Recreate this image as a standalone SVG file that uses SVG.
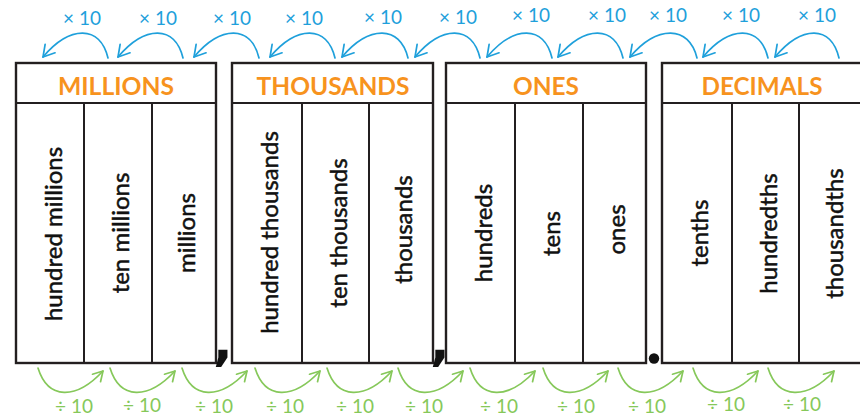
<svg xmlns="http://www.w3.org/2000/svg" width="860" height="418" viewBox="0 0 860 418">
<style>
.box{fill:#fff;stroke:#231F20;stroke-width:2.4}
.div{stroke:#231F20;stroke-width:2}
.hdr{font-family:Lato,"Open Sans",sans-serif;font-weight:bold;font-size:24px;fill:#F7931E;text-anchor:middle}
.col{font-family:Lato,"Open Sans",sans-serif;font-size:24px;fill:#111;stroke:#111;stroke-width:0.5;text-anchor:middle}
.up{fill:none;stroke:#1FA0DB;stroke-width:1.7;stroke-linecap:round}
.dn{fill:none;stroke:#86C85A;stroke-width:1.7;stroke-linecap:round}
.ul{font-family:Lato,"Open Sans",sans-serif;font-size:19px;fill:#1FA0DB;text-anchor:middle}
.dl{font-family:Lato,"Open Sans",sans-serif;font-size:19px;fill:#86C85A;text-anchor:middle}
.sep{font-family:"DejaVu Sans",sans-serif;font-weight:bold;font-size:52px;fill:#111;text-anchor:middle}
</style>
<defs>
<marker id="ahb" markerUnits="userSpaceOnUse" markerWidth="24" markerHeight="24" viewBox="-16 -12 24 24" refX="0" refY="0" orient="auto">
<path d="M-11,-6.5 L0,0 L-11,6.5" fill="none" stroke="#1FA0DB" stroke-width="1.7" stroke-linecap="round" stroke-linejoin="round"/>
</marker>
<marker id="ahg" markerUnits="userSpaceOnUse" markerWidth="24" markerHeight="24" viewBox="-16 -12 24 24" refX="0" refY="0" orient="auto">
<path d="M-9.5,-5.5 L0,0 L-9.5,5.5" fill="none" stroke="#86C85A" stroke-width="1.7" stroke-linecap="round" stroke-linejoin="round"/>
</marker>
</defs>
<rect width="860" height="418" fill="#fff"/>

<g id="millions">
<rect class="box" x="16" y="63" width="200" height="300"/>
<line class="div" x1="16" y1="103" x2="216" y2="103"/>
<line class="div" x1="84" y1="103" x2="84" y2="363"/>
<line class="div" x1="152" y1="103" x2="152" y2="363"/>
<text class="hdr" x="116" y="95" textLength="116" lengthAdjust="spacingAndGlyphs">MILLIONS</text>
<text class="col" transform="translate(62,234) rotate(-90)">hundred millions</text>
<text class="col" transform="translate(129,233) rotate(-90)">ten millions</text>
<text class="col" transform="translate(195,233) rotate(-90)">millions</text>
</g>

<g id="thousands">
<rect class="box" x="232" y="63" width="201" height="300"/>
<line class="div" x1="232" y1="103" x2="433" y2="103"/>
<line class="div" x1="302" y1="103" x2="302" y2="363"/>
<line class="div" x1="369" y1="103" x2="369" y2="363"/>
<text class="hdr" x="333" y="95" textLength="153" lengthAdjust="spacingAndGlyphs">THOUSANDS</text>
<text class="col" transform="translate(278,232.5) rotate(-90)">hundred thousands</text>
<text class="col" transform="translate(347,233) rotate(-90)">ten thousands</text>
<text class="col" transform="translate(412,229.5) rotate(-90)">thousands</text>
</g>

<g id="ones">
<rect class="box" x="446" y="63" width="200" height="300"/>
<line class="div" x1="446" y1="103" x2="646" y2="103"/>
<line class="div" x1="515" y1="103" x2="515" y2="363"/>
<line class="div" x1="583" y1="103" x2="583" y2="363"/>
<text class="hdr" x="546" y="95" textLength="66" lengthAdjust="spacingAndGlyphs">ONES</text>
<text class="col" transform="translate(492,233) rotate(-90)">hundreds</text>
<text class="col" transform="translate(560,233.5) rotate(-90)">tens</text>
<text class="col" transform="translate(625,229.5) rotate(-90)">ones</text>
</g>

<g id="decimals">
<rect class="box" x="662" y="63" width="210" height="300"/>
<line class="div" x1="662" y1="103" x2="872" y2="103"/>
<line class="div" x1="732" y1="103" x2="732" y2="363"/>
<line class="div" x1="799" y1="103" x2="799" y2="363"/>
<text class="hdr" x="762" y="95" textLength="121" lengthAdjust="spacingAndGlyphs">DECIMALS</text>
<text class="col" transform="translate(708,233) rotate(-90)">tenths</text>
<text class="col" transform="translate(777,233.5) rotate(-90)">hundredths</text>
<text class="col" transform="translate(843,233.5) rotate(-90)">thousandths</text>
</g>

<g id="separators">
<text class="sep" x="223" y="360">,</text>
<text class="sep" x="440" y="360">,</text>
<circle cx="654" cy="358.5" r="5.2" fill="#111"/>
</g>

<g id="connectors">
<path class="up" marker-end="url(#ahb)" d="M108,58 C100,25 70,25 43,57"/>
<path class="up" marker-end="url(#ahb)" d="M183,58 C175,25 145,25 118,57"/>
<path class="up" marker-end="url(#ahb)" d="M259,58 C251,25 221,25 194,57"/>
<path class="up" marker-end="url(#ahb)" d="M335,58 C327,25 297,25 270,57"/>
<path class="up" marker-end="url(#ahb)" d="M408,58 C400,25 369,25 342,57"/>
<path class="up" marker-end="url(#ahb)" d="M480,58 C472,25 442,25 415,57"/>
<path class="up" marker-end="url(#ahb)" d="M552,58 C544,25 514,25 487,57"/>
<path class="up" marker-end="url(#ahb)" d="M623,58 C615,25 585,25 558,57"/>
<path class="up" marker-end="url(#ahb)" d="M697,58 C689,25 657,25 630,57"/>
<path class="up" marker-end="url(#ahb)" d="M768,58 C760,25 730,25 703,57"/>
<path class="up" marker-end="url(#ahb)" d="M839,58 C831,25 802,25 775,57"/>

<path class="dn" marker-end="url(#ahg)" d="M38,368 C48,400 76,400 103,371"/>
<path class="dn" marker-end="url(#ahg)" d="M110,368 C120,400 148,400 175,371"/>
<path class="dn" marker-end="url(#ahg)" d="M182,368 C192,400 220,400 247,371"/>
<path class="dn" marker-end="url(#ahg)" d="M255,368 C265,400 293,400 320,371"/>
<path class="dn" marker-end="url(#ahg)" d="M327,368 C337,400 365,400 392,371"/>
<path class="dn" marker-end="url(#ahg)" d="M398,368 C408,400 436,400 463,371"/>
<path class="dn" marker-end="url(#ahg)" d="M470,368 C480,400 508,400 535,371"/>
<path class="dn" marker-end="url(#ahg)" d="M543,368 C553,400 581,400 608,371"/>
<path class="dn" marker-end="url(#ahg)" d="M618,368 C628,400 656,400 683,371"/>
<path class="dn" marker-end="url(#ahg)" d="M693,368 C703,400 731,400 758,371"/>
<path class="dn" marker-end="url(#ahg)" d="M768,368 C778,400 807,400 834,371"/>

<text class="ul" x="82" y="25">× 10</text>
<text class="ul" x="158" y="25">× 10</text>
<text class="ul" x="232" y="25">× 10</text>
<text class="ul" x="304" y="25">× 10</text>
<text class="ul" x="383" y="24">× 10</text>
<text class="ul" x="458" y="24">× 10</text>
<text class="ul" x="531" y="22">× 10</text>
<text class="ul" x="607" y="22">× 10</text>
<text class="ul" x="668" y="22">× 10</text>
<text class="ul" x="741" y="22">× 10</text>
<text class="ul" x="817" y="22">× 10</text>

<text class="dl" x="74" y="413">÷ 10</text>
<text class="dl" x="142" y="412">÷ 10</text>
<text class="dl" x="214" y="413">÷ 10</text>
<text class="dl" x="285" y="413">÷ 10</text>
<text class="dl" x="355" y="413">÷ 10</text>
<text class="dl" x="424" y="413">÷ 10</text>
<text class="dl" x="499" y="413">÷ 10</text>
<text class="dl" x="576" y="413">÷ 10</text>
<text class="dl" x="647" y="413">÷ 10</text>
<text class="dl" x="726" y="411">÷ 10</text>
<text class="dl" x="802" y="411">÷ 10</text>
</g>
</svg>
